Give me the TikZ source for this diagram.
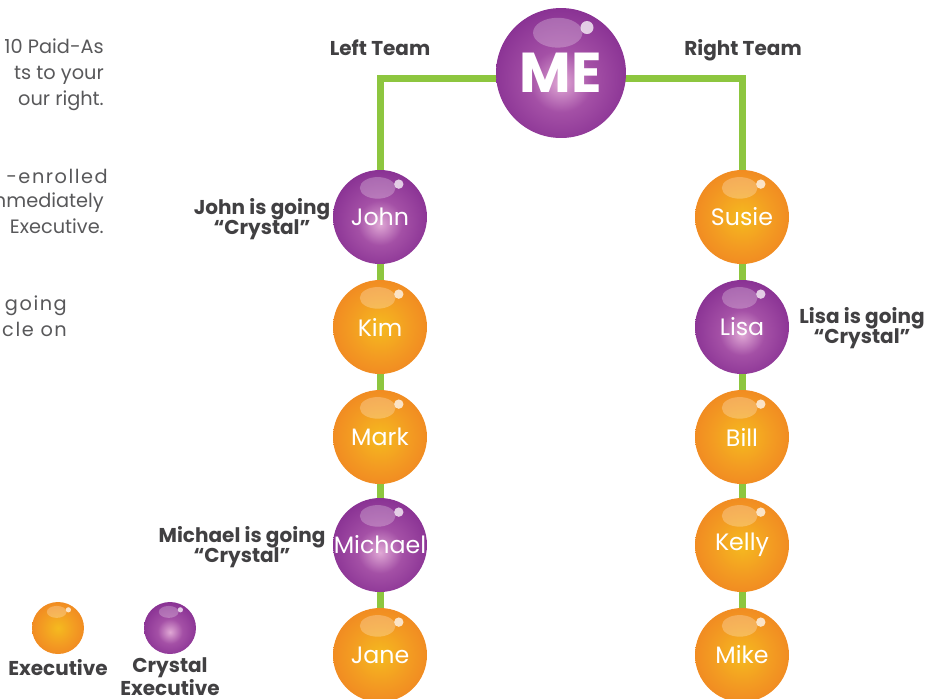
\documentclass[tikz,border=0pt]{standalone}
\usepackage{fontspec}
\setmainfont{Poppins}
\usetikzlibrary{backgrounds}

\definecolor{teamgreen}{HTML}{8DC63F}
\definecolor{labelgray}{HTML}{414042}
\definecolor{textgray}{HTML}{58585A}
\definecolor{orA}{HTML}{F5BA1F}
\definecolor{orB}{HTML}{F39B22}
\definecolor{orC}{HTML}{EF7D21}
\definecolor{orD}{HTML}{E2601B}
\definecolor{puA}{HTML}{E0A8D5}
\definecolor{puB}{HTML}{A450A6}
\definecolor{puC}{HTML}{842C90}
\definecolor{puD}{HTML}{621574}
\pgfdeclareradialshading{orangeball}{\pgfpoint{0bp}{0bp}}{color(0bp)=(orA); color(16bp)=(orB); color(34bp)=(orC); color(46bp)=(orC); color(50bp)=(orD)}
\pgfdeclareradialshading{purpleball}{\pgfpoint{0bp}{-4bp}}{color(0bp)=(puA); color(12bp)=(puB); color(30bp)=(puC); color(44bp)=(puC); color(50bp)=(puD)}

\begin{document}
\begin{tikzpicture}[
    x=0.02cm, y=-0.02cm,
    ball/.style={circle, inner sep=0pt, minimum size=1.88cm, shading=#1ball,
      text=white, font=\fontsize{13.5}{14}\selectfont, shine=0.94cm},
    shine/.style={path picture={
      \fill[white,opacity=0.25] ([shift={(-0.05*#1,0.62*#1)}]path picture bounding box.center)
        ellipse [x radius=0.38*#1, y radius=0.23*#1];
      \fill[white,opacity=0.75] ([shift={(0.4*#1,0.7*#1)}]path picture bounding box.center)
        circle [radius=0.1*#1];
    }},
    link/.style={teamgreen, line width=0.14cm},
    team/.style={labelgray, font=\fontsize{11.4}{11.6}\selectfont\bfseries},
    going/.style={team, align=center},
    blurb/.style={textgray, anchor=base east, font=\fontsize{11}{13}\selectfont},
]
    \useasboundingbox (0,0) rectangle (926,698);

    % text cut off at the left edge
    \node[blurb] (blurb1) at (110,53) {10 Paid-As};
    \node[blurb] (blurb2) at (110,79) {ts to your};
    \node[blurb] (blurb3) at (110,105) {our right.};
    \node[blurb] (blurb4) at (114,183) {\addfontfeature{LetterSpace=8}-enrolled};
    \node[blurb] (blurb5) at (110,207) {nmediately};
    \node[blurb] (blurb6) at (110,233) {Executive.};
    \node[blurb] (blurb7) at (73,310) {\addfontfeature{LetterSpace=8}going};
    \node[blurb] (blurb8) at (73,336) {\addfontfeature{LetterSpace=8}cle on};

    % the tree
    \node[ball=purple, minimum size=2.6cm, shine=1.3cm,
      font=\fontsize{32}{32}\selectfont\bfseries] (me) at (561,73) {ME};
    \node[team, anchor=base] (leftteam) at (380,55) {Left Team};
    \node[team, anchor=base] (rightteam) at (743,55) {Right Team};
    \foreach \nm/\y/\col in {John/217/purple,Kim/327/orange,Mark/437/orange,Michael/545/purple,Jane/655/orange}
      \node[ball=\col] (\nm) at (380,\y) {\nm};
    \foreach \nm/\y/\col in {Susie/217/orange,Lisa/327/purple,Bill/437/orange,Kelly/545/orange,Mike/655/orange}
      \node[ball=\col] (\nm) at (742,\y) {\nm};
    \coordinate (leftfoot) at (380,698);
    \coordinate (rightfoot) at (742,698);
    \begin{scope}[on background layer]
      \draw[link] (John.center) |- ([yshift=-0.1cm]me.center) -| (Susie.center);
      \draw[link] (John) -- (Kim) -- (Mark) -- (Michael) -- (Jane) -- (leftfoot);
      \draw[link] (Susie) -- (Lisa) -- (Bill) -- (Kelly) -- (Mike) -- (rightfoot);
    \end{scope}

    \node[going] (johngoing) at (262,219) {John is going\\“Crystal”};
    \node[going] (lisagoing) at (862,328) {Lisa is going\\“Crystal”};
    \node[going] (michaelgoing) at (242,547) {Michael is going\\“Crystal”};

    % legend
    \node[ball=orange, minimum size=1.04cm, shine=0.52cm] (execdot) at (58,628) {};
    \node[ball=purple, minimum size=1.04cm, shine=0.52cm] (crystaldot) at (170,628) {};
    \node[team] (execlabel) at (58,668) {Executive};
    \node[going] (crystallabel) at (170,677) {Crystal\\Executive};
\end{tikzpicture}
\end{document}
